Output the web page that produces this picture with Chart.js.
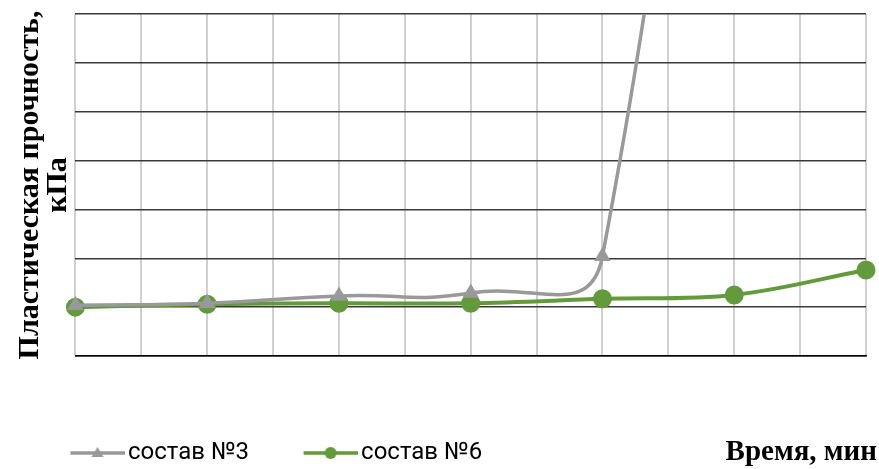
<!DOCTYPE html>
<html>
<head>
<meta charset="utf-8">
<script src="https://cdn.jsdelivr.net/npm/chart.js@4/dist/chart.umd.min.js"></script>
<style>
body { margin: 0; background: #fff; overflow: hidden; }
#wrap { width: 879px; height: 469px; }
</style>
</head>
<body>
<div id="wrap"><canvas id="strengthChart"></canvas></div>
<script>
"use strict";
// time, min
var timeMin = [0, 10, 20, 30, 40, 50, 60];
// plastic strength, kPa
var sostav3 = [1.04, 1.08, 1.23, 1.29, 2.04, 30, null];
var sostav6 = [1.00, 1.06, 1.08, 1.08, 1.17, 1.25, 1.76];
var seriesNames = ["состав №3", "состав №6"];

var grayColor = "#999999";
var greenColor = "#629a3c";
var swatchBox = 90;

function toPoints(xs, ys) {
    var pts = [];
    for (var i = 0; i < xs.length; i++) {
        if (ys[i] !== null) pts.push({x: xs[i], y: ys[i]});
    }
    return pts;
}

// legend swatch: short line with marker, placed just left of the label text
function legendSwatch(color, marker) {
    var c = document.createElement("canvas");
    c.width = swatchBox + 17; c.height = 16;
    var g = c.getContext("2d");
    var x1 = swatchBox - 37, x2 = swatchBox + 17, mid = (x1 + x2) / 2;
    g.strokeStyle = color;
    g.lineWidth = 3.5;
    g.beginPath(); g.moveTo(x1, 8); g.lineTo(x2, 8); g.stroke();
    g.fillStyle = color;
    g.beginPath();
    if (marker === "triangle") {
        g.moveTo(mid, 2); g.lineTo(mid + 6, 12); g.lineTo(mid - 6, 12); g.closePath();
    } else {
        g.arc(mid, 8, 6, 0, Math.PI * 2);
    }
    g.fill();
    return c;
}

// axis title drawn on the legend row, right side
var timeTitle = {
    id: "timeTitle",
    afterDraw: function (chart) {
        var ctx = chart.ctx;
        ctx.save();
        ctx.font = "bold 29px 'Liberation Serif'";
        ctx.fillStyle = "#000";
        ctx.textAlign = "right";
        ctx.textBaseline = "middle";
        ctx.fillText("Время, мин", 877, 453);
        ctx.restore();
    }
};

var ctx = document.getElementById("strengthChart");
var myLineChart = new Chart(ctx, {
    type: "line",
    data: {
        datasets: [{
            label: seriesNames[0],
            data: toPoints(timeMin, sostav3),
            borderColor: grayColor,
            backgroundColor: grayColor,
            borderWidth: 3.5,
            pointStyle: "triangle",
            pointRadius: 6,
            tension: 0.5,
            clip: {left: 10, right: 10, top: 0, bottom: 10}
        }, {
            label: seriesNames[1],
            data: toPoints(timeMin, sostav6),
            borderColor: greenColor,
            backgroundColor: greenColor,
            borderWidth: 4,
            pointStyle: "circle",
            pointRadius: 7.5,
            tension: 0.35,
            clip: false
        }]
    },
    options: {
        responsive: true,
        maintainAspectRatio: false,
        animation: false,
        elements: { line: { capBezierPoints: false } },
        layout: { padding: { top: 14, right: 13, left: 16, bottom: -6 } },
        scales: {
            x: {
                type: "linear",
                min: 0,
                max: 60,
                ticks: { display: false, stepSize: 5 },
                grid: { color: "#d0d0d0", lineWidth: 2, drawTicks: false },
                border: { display: true, color: "#000", width: 1.5 },
                afterFit: function (scale) { scale.height = 75; }
            },
            y: {
                min: 0,
                max: 7,
                ticks: { display: false, stepSize: 1 },
                grid: { color: "#3a3a3a", lineWidth: 1.5, drawTicks: false },
                border: { display: false },
                title: {
                    display: true,
                    text: ["Пластическая прочность,", "кПа"],
                    color: "#000",
                    font: { family: "'Liberation Serif'", size: 30, weight: "bold", lineHeight: 0.94 },
                    padding: { top: 0, bottom: 3 }
                }
            }
        },
        plugins: {
            legend: {
                position: "bottom",
                align: "start",
                labels: {
                    usePointStyle: true,
                    pointStyleWidth: swatchBox,
                    padding: 10,
                    color: "#000",
                    font: { family: "Roboto, sans-serif", size: 24 },
                    generateLabels: function (chart) {
                        return chart.data.datasets.map(function (ds, i) {
                            return {
                                text: ds.label,
                                pointStyle: legendSwatch(ds.borderColor, ds.pointStyle),
                                fillStyle: ds.borderColor,
                                strokeStyle: ds.borderColor,
                                fontColor: "#000",
                                lineWidth: 0,
                                datasetIndex: i
                            };
                        });
                    }
                }
            },
            tooltip: { enabled: false }
        }
    },
    plugins: [timeTitle]
});
</script>
</body>
</html>
